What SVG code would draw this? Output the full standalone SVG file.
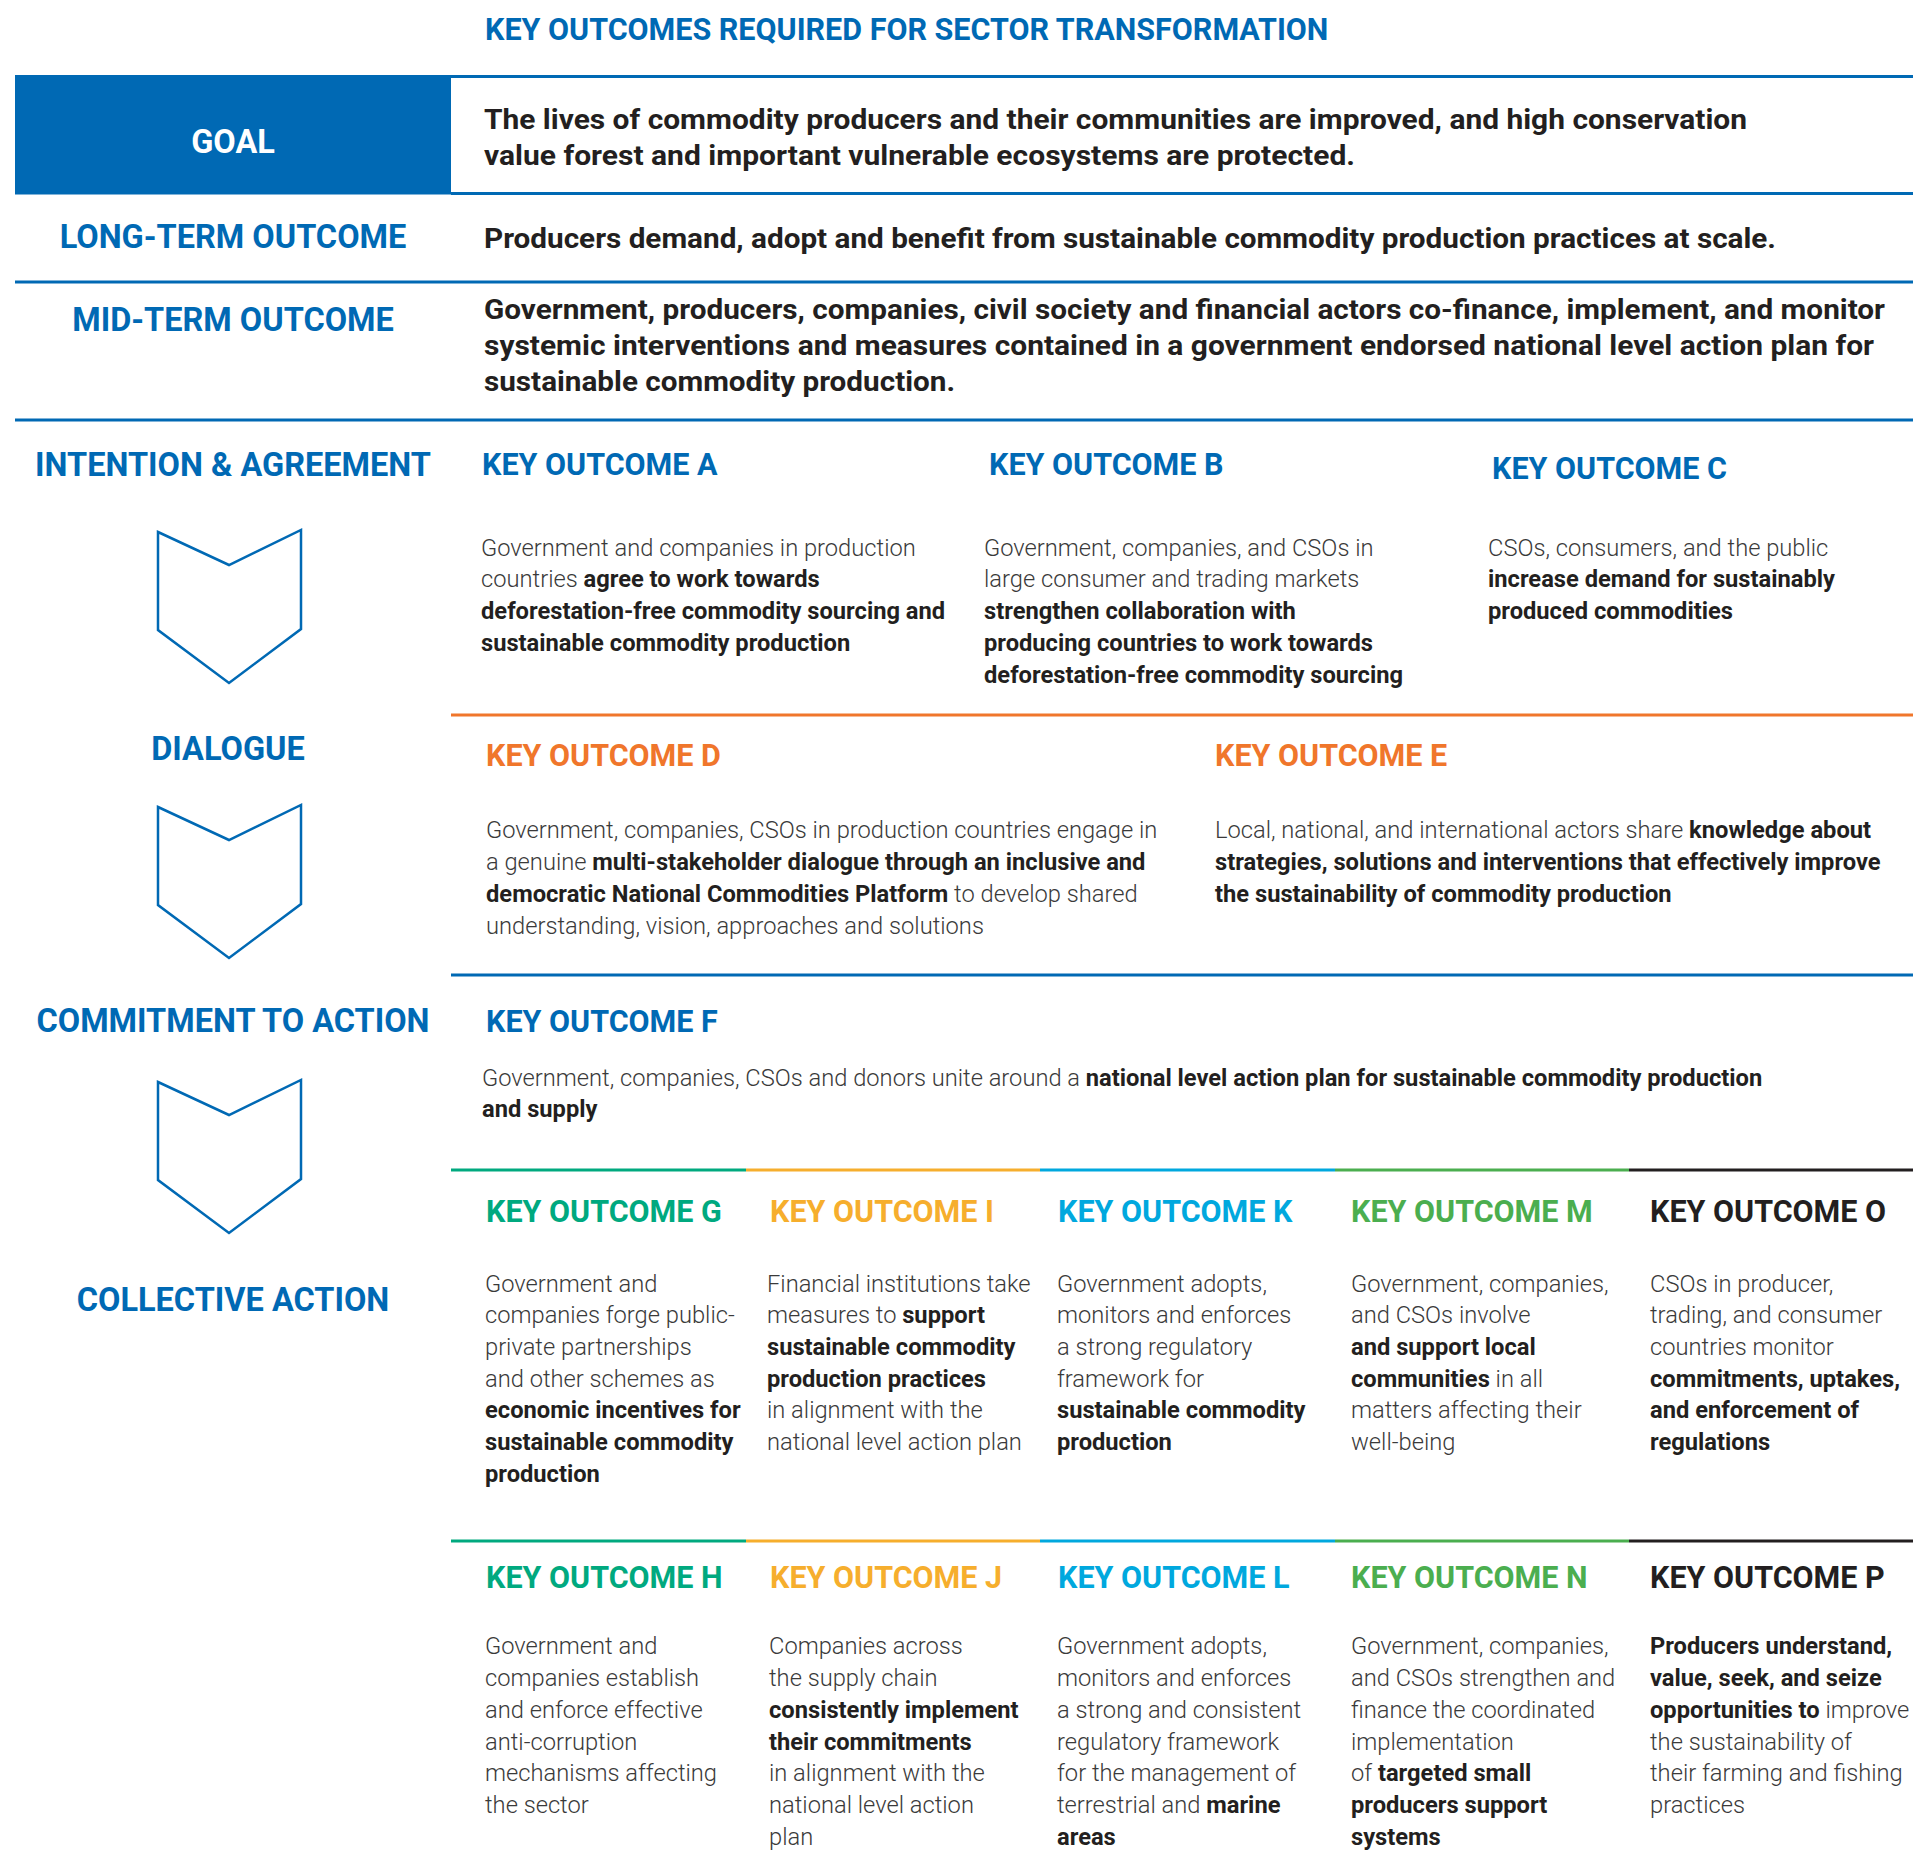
<svg xmlns="http://www.w3.org/2000/svg" width="1913" height="1850" viewBox="0 0 1913 1850">
<style>
text { font-family: Roboto, "Liberation Sans", "DejaVu Sans", sans-serif; }
.hd { font-weight: 700; font-size: 30.5px; }
.lbl { font-weight: 700; font-size: 32.5px; fill: #0069b4; text-anchor: middle; }
.blue { fill: #0069b4; }
.org { fill: #f0762b; }
.tg { fill: #00a97f; }
.yl { fill: #f6ae2d; }
.cy { fill: #00a8de; }
.gr { fill: #4bae4f; }
.dk { fill: #231f20; }
.big { font-weight: 700; font-size: 28px; fill: #231f20; }
.body { font-weight: 300; font-size: 23.7px; fill: #3a3a3a; }
.b { font-weight: 700; fill: #231f20; }
.chev { fill: none; stroke: #0069b4; stroke-width: 2.5; stroke-linejoin: miter; }
.rule { stroke-width: 3; fill: none; }
</style>

<g id="rules">
  <line class="rule" x1="15" y1="76.5" x2="1913" y2="76.5" stroke="#0069b4"/>
  <line class="rule" x1="451" y1="193.5" x2="1913" y2="193.5" stroke="#0069b4"/>
  <line class="rule" x1="15" y1="282" x2="1913" y2="282" stroke="#0069b4"/>
  <line class="rule" x1="15" y1="420" x2="1913" y2="420" stroke="#0069b4"/>
  <line class="rule" x1="451" y1="715" x2="1913" y2="715" stroke="#f0762b"/>
  <line class="rule" x1="451" y1="975" x2="1913" y2="975" stroke="#0069b4"/>
  <line class="rule" x1="451" y1="1170" x2="746" y2="1170" stroke="#00a97f"/>
  <line class="rule" x1="746" y1="1170" x2="1040" y2="1170" stroke="#f6ae2d"/>
  <line class="rule" x1="1040" y1="1170" x2="1335" y2="1170" stroke="#00a8de"/>
  <line class="rule" x1="1335" y1="1170" x2="1629" y2="1170" stroke="#4bae4f"/>
  <line class="rule" x1="1629" y1="1170" x2="1913" y2="1170" stroke="#231f20"/>
  <line class="rule" x1="451" y1="1541" x2="746" y2="1541" stroke="#00a97f"/>
  <line class="rule" x1="746" y1="1541" x2="1040" y2="1541" stroke="#f6ae2d"/>
  <line class="rule" x1="1040" y1="1541" x2="1335" y2="1541" stroke="#00a8de"/>
  <line class="rule" x1="1335" y1="1541" x2="1629" y2="1541" stroke="#4bae4f"/>
  <line class="rule" x1="1629" y1="1541" x2="1913" y2="1541" stroke="#231f20"/>
</g>

<g id="title">
  <text class="hd blue" x="485" y="40">KEY OUTCOMES REQUIRED FOR SECTOR TRANSFORMATION</text>
</g>

<g id="goal">
  <rect x="15" y="75" width="436" height="119.5" fill="#0069b4"/>
  <text class="lbl" x="233" y="153" style="fill:#ffffff">GOAL</text>
  <text class="big" x="484" y="129" textLength="1263" lengthAdjust="spacingAndGlyphs">The lives of commodity producers and their communities are improved, and high conservation</text>
  <text class="big" x="484" y="165" textLength="871" lengthAdjust="spacingAndGlyphs">value forest and important vulnerable ecosystems are protected.</text>
</g>

<g id="long-term">
  <text class="lbl" x="233" y="248">LONG-TERM OUTCOME</text>
  <text class="big" x="484" y="248" textLength="1292" lengthAdjust="spacingAndGlyphs">Producers demand, adopt and benefit from sustainable commodity production practices at scale.</text>
</g>

<g id="mid-term">
  <text class="lbl" x="233" y="331">MID-TERM OUTCOME</text>
  <text class="big" x="484" y="319" textLength="1401" lengthAdjust="spacingAndGlyphs">Government, producers, companies, civil society and financial actors co-finance, implement, and monitor</text>
  <text class="big" x="484" y="355" textLength="1390" lengthAdjust="spacingAndGlyphs">systemic interventions and measures contained in a government endorsed national level action plan for</text>
  <text class="big" x="484" y="391" textLength="471" lengthAdjust="spacingAndGlyphs">sustainable commodity production.</text>
</g>

<g id="stages">
  <text class="lbl" x="233" y="476">INTENTION &amp; AGREEMENT</text>
  <path class="chev" d="M158,532 L229,565 L301,530 L301,629 L229,683 L158,630 Z"/>
  <text class="lbl" x="228" y="760">DIALOGUE</text>
  <path class="chev" d="M158,807 L229,840 L301,805 L301,904 L229,958 L158,905 Z"/>
  <text class="lbl" x="233" y="1032">COMMITMENT TO ACTION</text>
  <path class="chev" d="M158,1082 L229,1115 L301,1080 L301,1179 L229,1233 L158,1180 Z"/>
  <text class="lbl" x="233" y="1311">COLLECTIVE ACTION</text>
</g>

<g id="outcome-a">
  <text class="hd blue" x="482" y="475">KEY OUTCOME A</text>
  <text class="body" x="481" y="556">Government and companies in production</text>
  <text class="body" x="481" y="587">countries <tspan class="b">agree to work towards</tspan></text>
  <text class="body b" x="481" y="619">deforestation-free commodity sourcing and</text>
  <text class="body b" x="481" y="651">sustainable commodity production</text>
</g>

<g id="outcome-b">
  <text class="hd blue" x="989" y="475">KEY OUTCOME B</text>
  <text class="body" x="984" y="556">Government, companies, and CSOs in</text>
  <text class="body" x="984" y="587">large consumer and trading markets</text>
  <text class="body b" x="984" y="619">strengthen collaboration with</text>
  <text class="body b" x="984" y="651">producing countries to work towards</text>
  <text class="body b" x="984" y="683">deforestation-free commodity sourcing</text>
</g>

<g id="outcome-c">
  <text class="hd blue" x="1492" y="479">KEY OUTCOME C</text>
  <text class="body" x="1488" y="556">CSOs, consumers, and the public</text>
  <text class="body b" x="1488" y="587">increase demand for sustainably</text>
  <text class="body b" x="1488" y="619">produced commodities</text>
</g>

<g id="outcome-d">
  <text class="hd org" x="486" y="766">KEY OUTCOME D</text>
  <text class="body" x="486" y="838">Government, companies, CSOs in production countries engage in</text>
  <text class="body" x="486" y="870">a genuine <tspan class="b">multi-stakeholder dialogue through an inclusive and</tspan></text>
  <text class="body" x="486" y="902"><tspan class="b">democratic National Commodities Platform</tspan> to develop shared</text>
  <text class="body" x="486" y="934">understanding, vision, approaches and solutions</text>
</g>

<g id="outcome-e">
  <text class="hd org" x="1215" y="766">KEY OUTCOME E</text>
  <text class="body" x="1215" y="838">Local, national, and international actors share <tspan class="b">knowledge about</tspan></text>
  <text class="body b" x="1215" y="870">strategies, solutions and interventions that effectively improve</text>
  <text class="body b" x="1215" y="902">the sustainability of commodity production</text>
</g>

<g id="outcome-f">
  <text class="hd blue" x="486" y="1032">KEY OUTCOME F</text>
  <text class="body" x="482" y="1086">Government, companies, CSOs and donors unite around a <tspan class="b">national level action plan for sustainable commodity production</tspan></text>
  <text class="body b" x="482" y="1117">and supply</text>
</g>

<g id="outcome-g">
  <text class="hd tg" x="486" y="1222">KEY OUTCOME G</text>
  <text class="body" x="485" y="1292">Government and</text>
  <text class="body" x="485" y="1323">companies forge public-</text>
  <text class="body" x="485" y="1355">private partnerships</text>
  <text class="body" x="485" y="1387">and other schemes as</text>
  <text class="body b" x="485" y="1418">economic incentives for</text>
  <text class="body b" x="485" y="1450">sustainable commodity</text>
  <text class="body b" x="485" y="1482">production</text>
</g>

<g id="outcome-i">
  <text class="hd yl" x="770" y="1222">KEY OUTCOME I</text>
  <text class="body" x="767" y="1292">Financial institutions take</text>
  <text class="body" x="767" y="1323">measures to <tspan class="b">support</tspan></text>
  <text class="body b" x="767" y="1355">sustainable commodity</text>
  <text class="body b" x="767" y="1387">production practices</text>
  <text class="body" x="767" y="1418">in alignment with the</text>
  <text class="body" x="767" y="1450">national level action plan</text>
</g>

<g id="outcome-k">
  <text class="hd cy" x="1058" y="1222">KEY OUTCOME K</text>
  <text class="body" x="1057" y="1292">Government adopts,</text>
  <text class="body" x="1057" y="1323">monitors and enforces</text>
  <text class="body" x="1057" y="1355">a strong regulatory</text>
  <text class="body" x="1057" y="1387">framework for</text>
  <text class="body b" x="1057" y="1418">sustainable commodity</text>
  <text class="body b" x="1057" y="1450">production</text>
</g>

<g id="outcome-m">
  <text class="hd gr" x="1351" y="1222">KEY OUTCOME M</text>
  <text class="body" x="1351" y="1292">Government, companies,</text>
  <text class="body" x="1351" y="1323">and CSOs involve</text>
  <text class="body b" x="1351" y="1355">and support local</text>
  <text class="body" x="1351" y="1387"><tspan class="b">communities</tspan> in all</text>
  <text class="body" x="1351" y="1418">matters affecting their</text>
  <text class="body" x="1351" y="1450">well-being</text>
</g>

<g id="outcome-o">
  <text class="hd dk" x="1650" y="1222">KEY OUTCOME O</text>
  <text class="body" x="1650" y="1292">CSOs in producer,</text>
  <text class="body" x="1650" y="1323">trading, and consumer</text>
  <text class="body" x="1650" y="1355">countries monitor</text>
  <text class="body b" x="1650" y="1387">commitments, uptakes,</text>
  <text class="body b" x="1650" y="1418">and enforcement of</text>
  <text class="body b" x="1650" y="1450">regulations</text>
</g>

<g id="outcome-h">
  <text class="hd tg" x="486" y="1588">KEY OUTCOME H</text>
  <text class="body" x="485" y="1654">Government and</text>
  <text class="body" x="485" y="1686">companies establish</text>
  <text class="body" x="485" y="1718">and enforce effective</text>
  <text class="body" x="485" y="1750">anti-corruption</text>
  <text class="body" x="485" y="1781">mechanisms affecting</text>
  <text class="body" x="485" y="1813">the sector</text>
</g>

<g id="outcome-j">
  <text class="hd yl" x="770" y="1588">KEY OUTCOME J</text>
  <text class="body" x="769" y="1654">Companies across</text>
  <text class="body" x="769" y="1686">the supply chain</text>
  <text class="body b" x="769" y="1718">consistently implement</text>
  <text class="body b" x="769" y="1750">their commitments</text>
  <text class="body" x="769" y="1781">in alignment with the</text>
  <text class="body" x="769" y="1813">national level action</text>
  <text class="body" x="769" y="1845">plan</text>
</g>

<g id="outcome-l">
  <text class="hd cy" x="1058" y="1588">KEY OUTCOME L</text>
  <text class="body" x="1057" y="1654">Government adopts,</text>
  <text class="body" x="1057" y="1686">monitors and enforces</text>
  <text class="body" x="1057" y="1718">a strong and consistent</text>
  <text class="body" x="1057" y="1750">regulatory framework</text>
  <text class="body" x="1057" y="1781">for the management of</text>
  <text class="body" x="1057" y="1813">terrestrial and <tspan class="b">marine</tspan></text>
  <text class="body b" x="1057" y="1845">areas</text>
</g>

<g id="outcome-n">
  <text class="hd gr" x="1351" y="1588">KEY OUTCOME N</text>
  <text class="body" x="1351" y="1654">Government, companies,</text>
  <text class="body" x="1351" y="1686">and CSOs strengthen and</text>
  <text class="body" x="1351" y="1718">finance the coordinated</text>
  <text class="body" x="1351" y="1750">implementation</text>
  <text class="body" x="1351" y="1781">of <tspan class="b">targeted small</tspan></text>
  <text class="body b" x="1351" y="1813">producers support</text>
  <text class="body b" x="1351" y="1845">systems</text>
</g>

<g id="outcome-p">
  <text class="hd dk" x="1650" y="1588">KEY OUTCOME P</text>
  <text class="body b" x="1650" y="1654">Producers understand,</text>
  <text class="body b" x="1650" y="1686">value, seek, and seize</text>
  <text class="body" x="1650" y="1718"><tspan class="b">opportunities to</tspan> improve</text>
  <text class="body" x="1650" y="1750">the sustainability of</text>
  <text class="body" x="1650" y="1781">their farming and fishing</text>
  <text class="body" x="1650" y="1813">practices</text>
</g>
</svg>
